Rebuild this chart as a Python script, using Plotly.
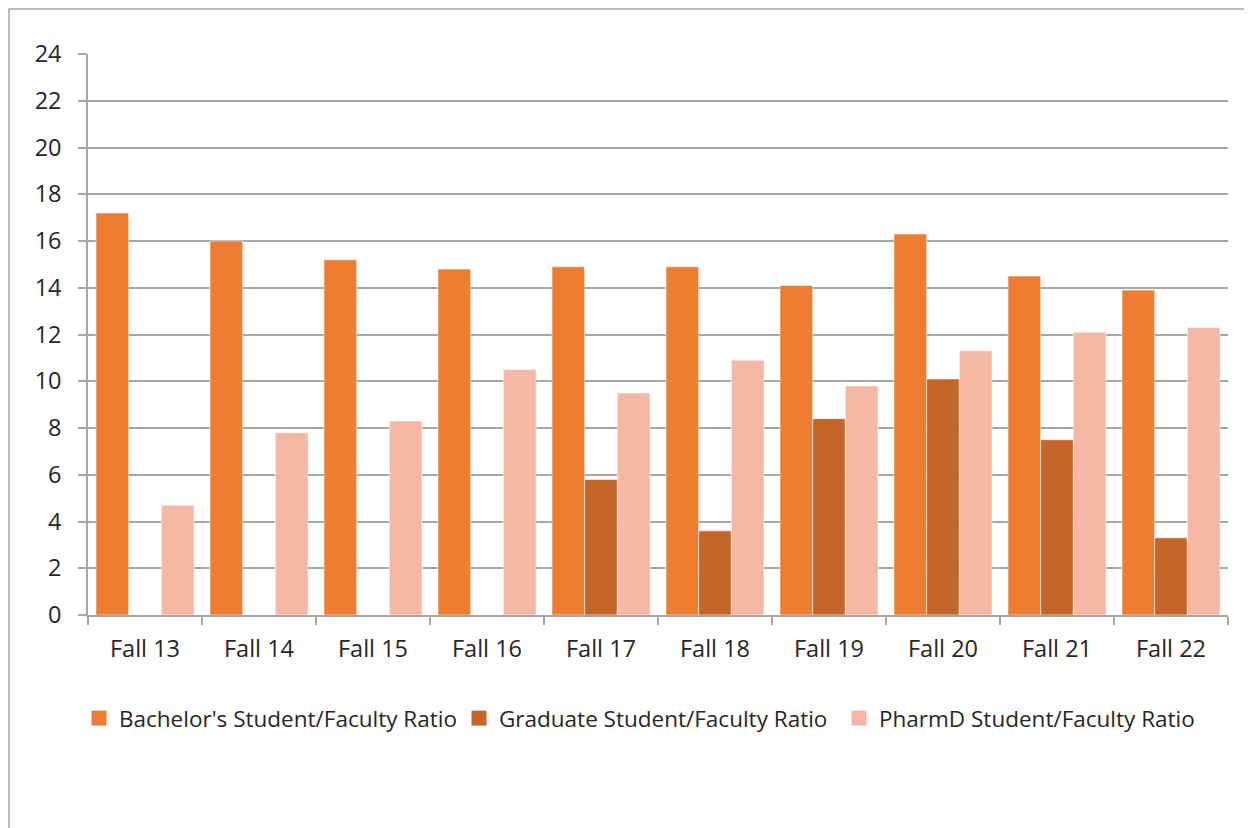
import plotly.graph_objects as go

categories = ["Fall 13", "Fall 14", "Fall 15", "Fall 16", "Fall 17",
              "Fall 18", "Fall 19", "Fall 20", "Fall 21", "Fall 22"]
bachelor = [17.2, 16.0, 15.2, 14.8, 14.9, 14.9, 14.1, 16.3, 14.5, 13.9]
graduate = [None, None, None, None, 5.8, 3.6, 8.4, 10.1, 7.5, 3.3]
pharmd = [4.7, 7.8, 8.3, 10.5, 9.5, 10.9, 9.8, 11.3, 12.1, 12.3]
y_ticks = list(range(0, 25, 2))

names = ["Bachelor's Student/Faculty Ratio",
         "Graduate Student/Faculty Ratio",
         "PharmD Student/Faculty Ratio"]
colors = ["#ED7D31", "#C4662A", "#F4B8A4"]

FONT = "Open Sans"
FS = 23.5
LFS = 22.5
OFF = 8  # default page body margin
W, H = 1252 - OFF, 828 - OFF
ML, MT = 88 - OFF, 54 - OFF
MR = W - (1228 - OFF)
MB = H - (615 - OFF)
PW, PH = W - ML - MR, H - MT - MB


def sx(p):  # screen x pixel -> paper
    return (p - OFF - ML) / PW


def sy(p):  # screen y pixel -> paper
    return (H - MB - (p - OFF)) / PH


fig = go.Figure()
for name, vals, col in zip(names, [bachelor, graduate, pharmd], colors):
    fig.add_trace(go.Bar(
        x=categories, y=vals, name=name, showlegend=False,
        marker=dict(color=col, line=dict(color="rgba(255,255,255,0.55)", width=1)),
    ))
# legend entries with larger square swatches
for name, col in zip(names, colors):
    fig.add_trace(go.Scatter(
        x=[None], y=[None], name=name, mode="markers",
        marker=dict(symbol="square", size=15, color=col),
    ))

fig.add_shape(type="rect", xref="paper", yref="paper",
              x0=sx(OFF + 1), x1=sx(1270), y0=sy(OFF + 1), y1=sy(850),
              line=dict(color="#A6A6A6", width=1.5), fillcolor="rgba(0,0,0,0)",
              layer="below")

fig.update_layout(
    width=W, height=H, autosize=False,
    margin=dict(l=ML, r=MR, t=MT, b=MB),
    paper_bgcolor="white", plot_bgcolor="white",
    barmode="group", bargap=0.14, bargroupgap=0,
    font=dict(family=FONT, size=FS, color="#262626"),
    showlegend=True,
    legend=dict(orientation="h", x=sx(79), xanchor="left",
                y=sy(697), yanchor="top",
                font=dict(family=FONT, size=LFS, color="#262626"),
                itemwidth=30, traceorder="normal",
                entrywidth=335, entrywidthmode="pixels"),
    xaxis=dict(showline=True, linecolor="#A6A6A6", linewidth=1.5,
               ticks="outside", tickson="boundaries", ticklen=8,
               tickcolor="#A6A6A6", tickwidth=1.5,
               showgrid=False, ticklabelstandoff=12, fixedrange=True),
    yaxis=dict(range=[0, 24], tickvals=y_ticks, showline=True,
               linecolor="#A6A6A6", linewidth=1.5,
               showgrid=True, gridcolor="#A6A6A6", gridwidth=1.5,
               ticks="outside", ticklen=8, tickcolor="#A6A6A6", tickwidth=1.5,
               ticklabelstandoff=12, zeroline=False, fixedrange=True),
)

fig.write_html("out.html")
